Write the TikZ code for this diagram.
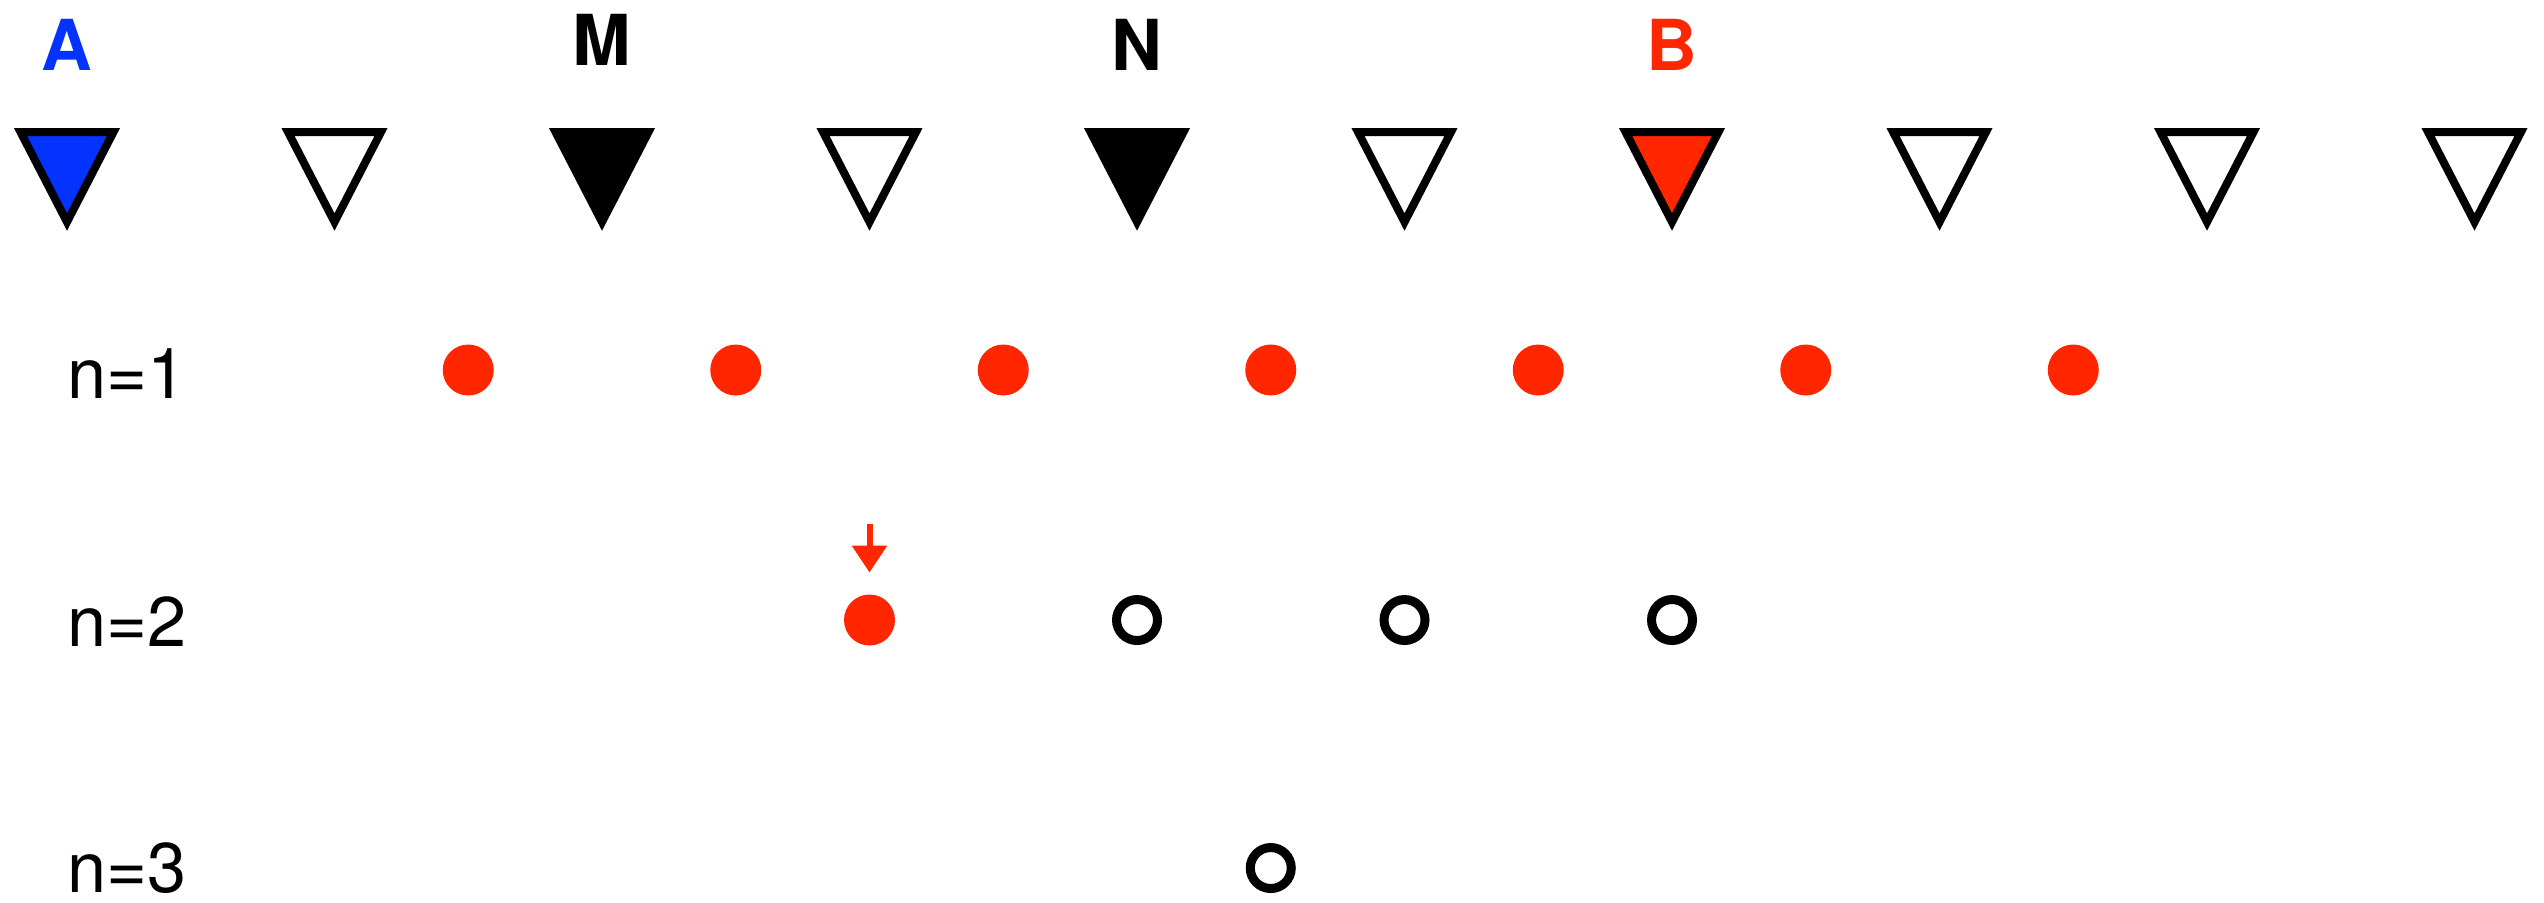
\documentclass[tikz,border=0pt]{standalone}
\usepackage{fontspec}
\setmainfont{TeX Gyre Heros}
\usetikzlibrary{arrows.meta,positioning,calc}
\definecolor{ptblue}{RGB}{4,51,255}
\definecolor{ptred}{RGB}{255,38,0}
\tikzset{
  tri/.style={draw=black,line width=0.08cm,line join=miter,fill=white},
  reddot/.style={circle,fill=ptred,inner sep=0pt,outer sep=0pt,minimum size=0.51cm},
  opendot/.style={circle,draw=black,line width=0.09cm,inner sep=0pt,outer sep=0pt,minimum size=0.41cm},
  toplbl/.style={font=\fontsize{20}{24}\selectfont\bfseries,inner sep=0pt},
  rowlbl/.style={font=\fontsize{20}{24}\selectfont,anchor=base west,inner sep=0pt},
  redarr/.style={-{Triangle[length=0.27cm,width=0.34cm]},ptred,line width=0.06cm,shorten >=0.22cm}
}

\begin{document}
\begin{tikzpicture}
  \useasboundingbox (0,0) rectangle (25.44,-9.02);
  % Triangle positions
  \foreach \i in {0,...,9}
    \coordinate (t\i) at ({0.67+2.675*\i},-1.77);

  % Triangles
  \foreach \i/\f in {0/ptblue,1/white,2/black,3/white,4/black,5/white,6/ptred,7/white,8/white,9/white}
    \draw[tri,fill=\f] ($(t\i)+(-0.465,0.45)$) -- ($(t\i)+(0.465,0.45)$) -- ($(t\i)+(0,-0.45)$) -- cycle;

  % Labels above the triangles
  \node[toplbl,text=ptblue] (lA) at (0.67,-0.45) {A};
  \node[toplbl] (lM) at ({0.67+2.675*2},-0.40) {M};
  \node[toplbl] (lN) at ({0.67+2.675*4},-0.45) {N};
  \node[toplbl,text=ptred] (lB) at ({0.67+2.675*6},-0.45) {B};

  % Row labels
  \node[rowlbl] (n1) at (0.67,-3.98) {n=1};
  \node[rowlbl] (n2) at (0.67,-6.46) {n=2};
  \node[rowlbl] (n3) at (0.67,-8.92) {n=3};

  % n=1
  \foreach \k in {0,...,6}
    \node[reddot] (a\k) at ({0.67+2.675*(\k+1.5)},-3.70) {};

  % n=2
  \node[reddot] (b0) at ({0.67+2.675*3},-6.20) {};
  \foreach \k in {1,2,3}
    \node[opendot] (b\k) at ({0.67+2.675*(\k+3)},-6.20) {};
  \coordinate (arrtop) at ($(b0)+(0,0.96)$);
  \draw[redarr] (arrtop) -- (b0);

  % n=3
  \node[opendot] (c0) at ({0.67+2.675*4.5},-8.68) {};

\end{tikzpicture}
\end{document}
